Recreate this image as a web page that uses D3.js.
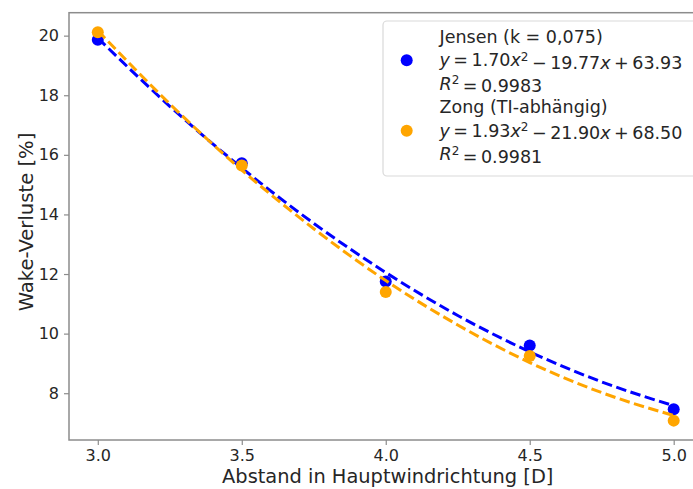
<!DOCTYPE html>
<html>
<head>
<meta charset="utf-8">
<script src="https://cdn.jsdelivr.net/npm/d3@7"></script>
<style>
  body { margin: 0; background: #fff; }
  svg { display: block; font-family: "DejaVu Sans", sans-serif; }
</style>
</head>
<body>
<svg id="chart" width="693" height="489"></svg>
<script>
// ---- data ----
const abstand = [3.0, 3.5, 4.0, 4.5, 5.0];
const jensenValues = [19.86, 15.72, 11.75, 9.6, 7.46];
const zongValues = [20.11, 15.64, 11.4, 9.25, 7.08];

// fitted curves, read at quarter steps
const fitX = [3.0, 3.25, 3.5, 3.75, 4.0, 4.25, 4.5, 4.75, 5.0];
const jensenFit = [19.92, 17.63, 15.56, 13.70, 12.05, 10.61, 9.39, 8.38, 7.58];
const zongFit = [20.17, 17.71, 15.49, 13.52, 11.78, 10.29, 9.03, 8.02, 7.25];

const xTicks = [3.0, 3.5, 4.0, 4.5, 5.0];
const yTicks = [8, 10, 12, 14, 16, 18, 20];

const series = [
  { name: "Jensen (k = 0,075)", a: "1.70", b: "19.77", c: "63.93", r2: "0.9983",
    values: jensenValues, fit: jensenFit, color: "#0000ff" },
  { name: "Zong (TI-abhängig)", a: "1.93", b: "21.90", c: "68.50", r2: "0.9981",
    values: zongValues, fit: zongFit, color: "#ffa500" }
];

// ---- layout ----
const svg = d3.select("#chart");
const margin = { left: 69, top: 12.7, bottom: 440 };
const plotRight = 702.5;

const x = d3.scaleLinear().domain([2.9, 5.1]).range([margin.left, plotRight]);
const y = d3.scaleLinear().domain([6.43, 20.77]).range([margin.bottom, margin.top]);

const axisColor = "#8c8c8c";
const textColor = "#262626";

// frame
svg.append("rect")
  .attr("x", margin.left).attr("y", margin.top)
  .attr("width", plotRight - margin.left)
  .attr("height", margin.bottom - margin.top)
  .attr("fill", "none")
  .attr("stroke", axisColor)
  .attr("stroke-width", 1.5);

// x axis
const xAxis = svg.append("g")
  .attr("transform", `translate(0,${margin.bottom})`)
  .call(d3.axisBottom(x).tickValues(xTicks).tickFormat(d3.format(".1f")).tickSize(5).tickPadding(5));
xAxis.select(".domain").remove();
xAxis.selectAll("line").attr("stroke", axisColor).attr("stroke-width", 1.2);
xAxis.selectAll("text").attr("fill", textColor).style("font-size", "16px")
  .style("font-family", "DejaVu Sans");

// y axis
const yAxis = svg.append("g")
  .attr("transform", `translate(${margin.left},0)`)
  .call(d3.axisLeft(y).tickValues(yTicks).tickSize(5).tickPadding(5));
yAxis.select(".domain").remove();
yAxis.selectAll("line").attr("stroke", axisColor).attr("stroke-width", 1.2);
yAxis.selectAll("text").attr("fill", textColor).style("font-size", "16px")
  .style("font-family", "DejaVu Sans");

// axis titles
svg.append("text")
  .attr("x", (margin.left + plotRight) / 2 + 2)
  .attr("y", 483)
  .attr("text-anchor", "middle")
  .attr("fill", textColor)
  .style("font-size", "19.4px")
  .text("Abstand in Hauptwindrichtung [D]");

svg.append("text")
  .attr("transform", "translate(33,222) rotate(-90)")
  .attr("text-anchor", "middle")
  .attr("fill", textColor)
  .style("font-size", "19.6px")
  .text("Wake-Verluste [%]");

// ---- marks ----
const line = d3.line()
  .x((d, i) => x(fitX[i]))
  .y(d => y(d))
  .curve(d3.curveMonotoneX);

series.forEach(s => {
  svg.append("g").selectAll("circle")
    .data(s.values)
    .join("circle")
    .attr("cx", (d, i) => x(abstand[i]))
    .attr("cy", d => y(d))
    .attr("r", 6)
    .attr("fill", s.color);

  svg.append("path")
    .datum(s.fit)
    .attr("d", line)
    .attr("fill", "none")
    .attr("stroke", s.color)
    .attr("stroke-width", 3)
    .attr("stroke-dasharray", "10.5,4.5");
});

// ---- legend ----
const legend = svg.append("g");
legend.append("rect")
  .attr("x", 383).attr("y", 21)
  .attr("width", 330).attr("height", 155)
  .attr("rx", 4)
  .attr("fill", "#fff")
  .attr("fill-opacity", 0.8)
  .attr("stroke", "#d9d9d9")
  .attr("stroke-width", 1.2);

const lineGap = 23.5;
const thin = "\u2009";
series.forEach((s, k) => {
  const top = 36.7 + k * 3 * lineGap;
  legend.append("circle")
    .attr("cx", 406.7).attr("cy", top + lineGap)
    .attr("r", 6)
    .attr("fill", s.color);

  const tx = 439.5;
  legend.append("text")
    .attr("x", tx).attr("y", top).attr("dy", "0.35em")
    .attr("fill", textColor).style("font-size", "17.5px")
    .text(s.name);

  const eq = legend.append("text")
    .attr("x", tx).attr("y", top + lineGap).attr("dy", "0.35em")
    .attr("fill", textColor).style("font-size", "17.5px");
  eq.append("tspan").attr("font-style", "italic").text("y");
  eq.append("tspan").text(`${thin}=${thin}${s.a}`);
  eq.append("tspan").attr("font-style", "italic").text("x");
  eq.append("tspan").attr("dy", "-0.45em").style("font-size", "12px").text("2");
  eq.append("tspan").attr("dy", "0.45em").text(`${thin}\u2212${thin}${s.b}`);
  eq.append("tspan").attr("font-style", "italic").text("x");
  eq.append("tspan").text(`${thin}+${thin}${s.c}`);

  const r2 = legend.append("text")
    .attr("x", tx).attr("y", top + 2 * lineGap).attr("dy", "0.35em")
    .attr("fill", textColor).style("font-size", "17.5px");
  r2.append("tspan").attr("font-style", "italic").text("R");
  r2.append("tspan").attr("dy", "-0.45em").style("font-size", "12px").text("2");
  r2.append("tspan").attr("dy", "0.45em").text(`${thin}=${thin}${s.r2}`);
});
</script>
</body>
</html>
